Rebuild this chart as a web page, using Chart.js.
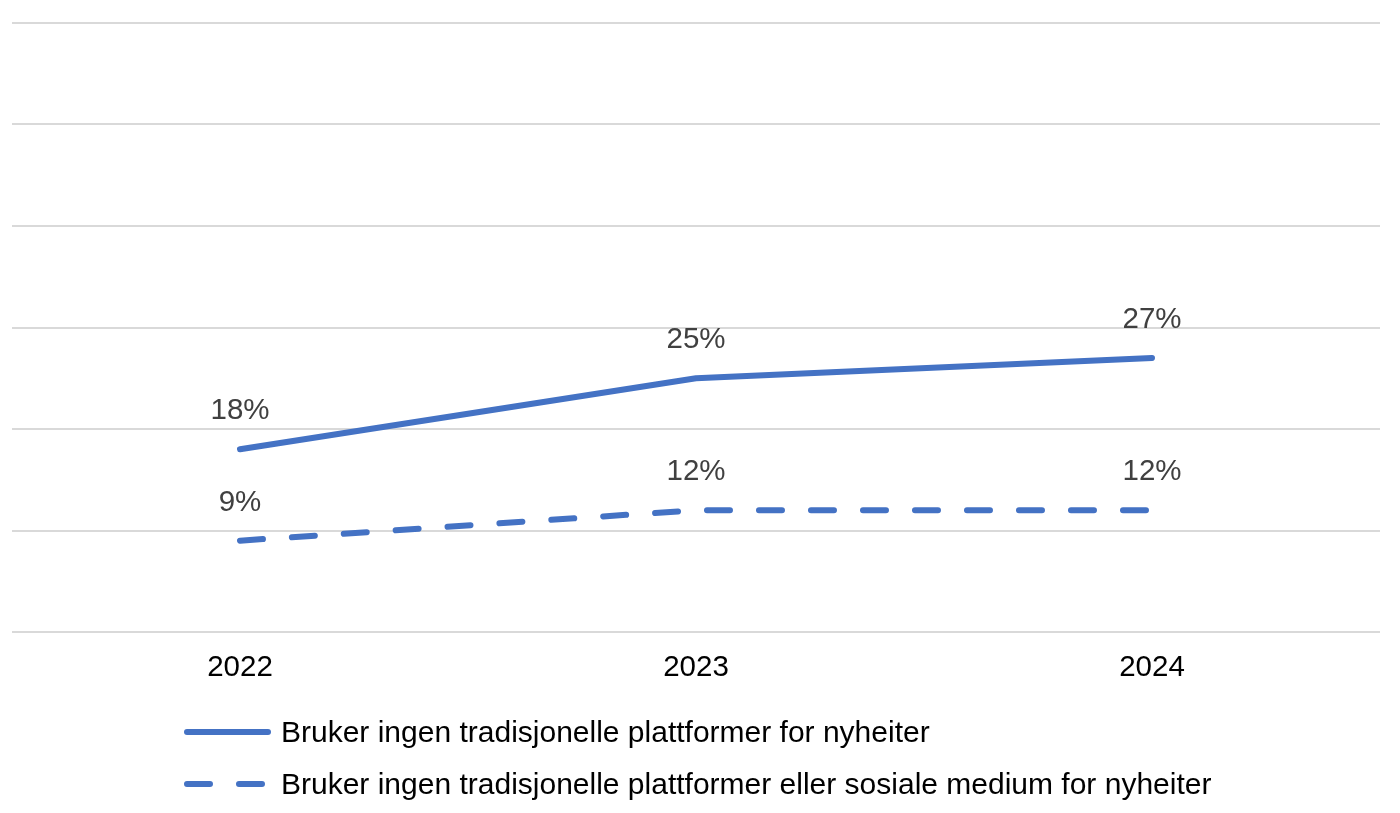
<!DOCTYPE html>
<html>
<head>
<meta charset="utf-8">
<script src="https://cdn.jsdelivr.net/npm/chart.js@4/dist/chart.umd.min.js"></script>
<style>
html,body{margin:0;padding:0;background:#fff;}
#wrap{width:1400px;height:813px;position:relative;}
</style>
</head>
<body>
<div id="wrap"><canvas id="c" width="1400" height="813"></canvas></div>
<script>
const categories = ["2022", "2023", "2024"];
const seriesNames = [
  "Bruker ingen tradisjonelle plattformer for nyheiter",
  "Bruker ingen tradisjonelle plattformer eller sosiale medium for nyheiter"
];
const noTraditional = [18, 25, 27];
const noTraditionalOrSocial = [9, 12, 12];
const yTicks = [0, 10, 20, 30, 40, 50, 60];

const FONT = "'Liberation Sans', Arial, sans-serif";
const BLUE = "#4472C4";

const labelPlugin = {
  id: "pointLabels",
  afterDatasetsDraw(chart) {
    const ctx = chart.ctx;
    ctx.save();
    ctx.font = "29.5px " + FONT;
    ctx.fillStyle = "#404040";
    ctx.textAlign = "center";
    ctx.textBaseline = "middle";
    chart.data.datasets.forEach((ds, i) => {
      const meta = chart.getDatasetMeta(i);
      meta.data.forEach((pt, j) => {
        ctx.fillText(ds.data[j] + "%", pt.x, pt.y - 38);
      });
    });
    ctx.restore();
  }
};

const legendPlugin = {
  id: "customLegend",
  afterDraw(chart) {
    const ctx = chart.ctx;
    ctx.save();
    ctx.font = "30px " + FONT;
    const lineLen = 87, gap = 10;
    let maxW = 0;
    chart.data.datasets.forEach(ds => {
      maxW = Math.max(maxW, lineLen + gap + ctx.measureText(ds.label).width);
    });
    const left = Math.round((chart.width - maxW) / 2) - 2;
    const rows = [732, 784];
    chart.data.datasets.forEach((ds, i) => {
      const y = rows[i];
      ctx.strokeStyle = ds.borderColor;
      ctx.lineWidth = 6;
      ctx.lineCap = "round";
      ctx.setLineDash(ds.borderDash || []);
      ctx.beginPath();
      ctx.moveTo(left + 3, y);
      ctx.lineTo(left + lineLen - 3, y);
      ctx.stroke();
      ctx.setLineDash([]);
      ctx.fillStyle = "#000";
      ctx.textAlign = "left";
      ctx.textBaseline = "middle";
      ctx.fillText(ds.label, left + lineLen + gap, y + 2);
    });
    ctx.restore();
  }
};

new Chart(document.getElementById("c"), {
  type: "line",
  data: {
    labels: categories,
    datasets: [
      {
        label: seriesNames[0],
        data: noTraditional,
        borderColor: BLUE,
        borderWidth: 6,
        borderCapStyle: "round",
        borderJoinStyle: "round",
        pointRadius: 0,
        tension: 0,
        fill: false
      },
      {
        label: seriesNames[1],
        data: noTraditionalOrSocial,
        borderColor: BLUE,
        borderWidth: 6,
        borderCapStyle: "round",
        borderJoinStyle: "round",
        borderDash: [23, 29],
        pointRadius: 0,
        tension: 0,
        fill: false
      }
    ]
  },
  options: {
    responsive: false,
    animation: false,
    devicePixelRatio: 1,
    layout: { padding: { left: 12, right: 20, top: 23, bottom: 0 } },
    plugins: {
      legend: { display: false },
      tooltip: { enabled: false }
    },
    scales: {
      x: {
        offset: true,
        grid: { display: false, drawTicks: false },
        border: { display: false },
        ticks: {
          color: "#000",
          font: { family: FONT, size: 29.5 },
          padding: 18
        },
        afterFit(scale) { scale.height = 181; }
      },
      y: {
        min: 0,
        max: 60,
        afterBuildTicks(scale) { scale.ticks = yTicks.map(v => ({ value: v })); },
        grid: { color: "#d9d9d9", lineWidth: 2, drawTicks: false },
        border: { display: false },
        ticks: { display: false },
        afterFit(scale) { scale.width = 0; }
      }
    }
  },
  plugins: [labelPlugin, legendPlugin]
});
</script>
</body>
</html>
